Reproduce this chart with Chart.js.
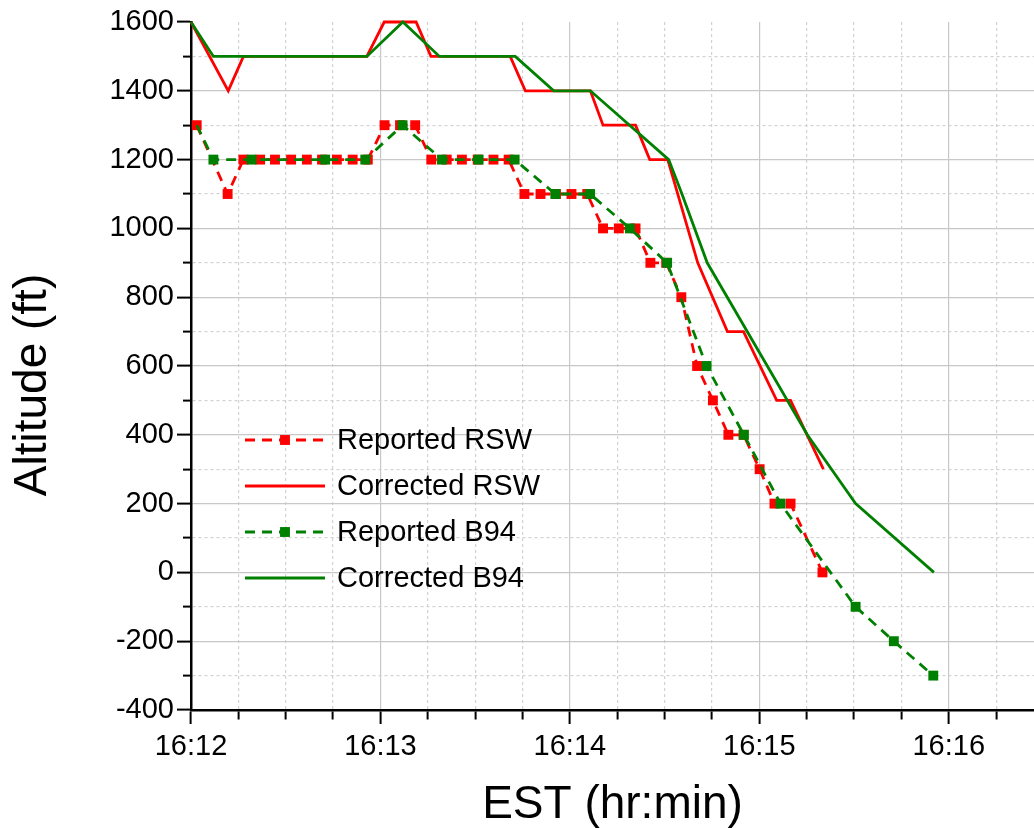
<!DOCTYPE html>
<html>
<head>
<meta charset="utf-8">
<script src="https://cdn.jsdelivr.net/npm/chart.js@4/dist/chart.umd.min.js"></script>
<style>
html,body{margin:0;padding:0;background:#fff;}
canvas{display:block;}
</style>
</head>
<body>
<canvas id="c" width="1034" height="828"></canvas>
<script>
// Time in seconds after 16:12:00 EST, altitude in ft
const reportedRswT   = [1.8, 11.6, 16.6, 21.9, 26.6, 31.7, 36.7, 41.5, 46.2, 51.2, 56.0, 61.3, 66.2, 71.0, 76.1, 81.0, 85.8, 90.8, 95.8, 100.6, 105.6, 110.7, 115.6, 120.5, 125.5, 130.5, 135.5, 140.8, 145.5, 150.5, 155.3, 160.3, 165.3, 170.2, 175.0, 180.1, 184.8, 189.9, 200.0];
const reportedRswAlt = [1300, 1100, 1200, 1200, 1200, 1200, 1200, 1200, 1200, 1200, 1200, 1300, 1300, 1300, 1200, 1200, 1200, 1200, 1200, 1200, 1100, 1100, 1100, 1100, 1100, 1000, 1000, 1000, 900, 900, 800, 600, 500, 400, 400, 300, 200, 200, 0];

const correctedRswT   = [0, 11.8, 16.6, 55.7, 61.2, 71.3, 76.0, 101.1, 105.9, 126.5, 130.5, 140.8, 145.3, 151.0, 160.5, 169.9, 175.0, 185.5, 189.9, 200.3];
const correctedRswAlt = [1600, 1400, 1500, 1500, 1600, 1600, 1500, 1500, 1400, 1400, 1300, 1300, 1200, 1200, 900, 700, 700, 500, 500, 300];

const reportedB94T   = [1.8, 7.1, 19.2, 42.5, 55.2, 67.0, 79.5, 91.1, 102.5, 115.4, 126.4, 139.0, 150.8, 163.3, 175.1, 186.7, 210.5, 222.6, 235.1];
const reportedB94Alt = [1300, 1200, 1200, 1200, 1200, 1300, 1200, 1200, 1200, 1100, 1100, 1000, 900, 600, 400, 200, -100, -200, -300];

const correctedB94T   = [0, 7.1, 55.7, 67.1, 78.7, 102.7, 114.9, 126.5, 151.3, 155.5, 163.5, 195.2, 210.5, 235.3];
const correctedB94Alt = [1600, 1500, 1500, 1600, 1500, 1500, 1400, 1400, 1200, 1100, 900, 400, 200, 0];

const seriesNames = ['Reported RSW', 'Corrected RSW', 'Reported B94', 'Corrected B94'];
const xTickLabels = ['16:12', '16:13', '16:14', '16:15', '16:16'];
const xTitle = 'EST (hr:min)';
const yTitle = 'Altitude (ft)';

const RED = '#ff0000';
const GREEN = '#008000';
const FONT = '"Liberation Sans", Arial, Helvetica, sans-serif';
const MARK_R = 7;
const LINE_W = 2.8;
const DASH = [10, 7];

function pts(t, a) { return t.map((v, i) => ({x: v, y: a[i]})); }

Chart.defaults.font.family = FONT;
Chart.defaults.color = '#000';

const majorGrid = '#c8c8c8';
const minorGrid = '#d2d2d2';

const legendPlugin = {
  id: 'inLegend',
  afterDraw(chart) {
    const ctx = chart.ctx;
    const x0 = 245, lineLen = 80, textX = 337, top = 440, rowH = 46;
    ctx.save();
    seriesNames.forEach((name, i) => {
      const ds = chart.data.datasets.find(d => d.label === name);
      const y = top + i * rowH;
      ctx.strokeStyle = ds.borderColor;
      ctx.lineWidth = ds.borderWidth;
      ctx.setLineDash(ds.borderDash || []);
      ctx.beginPath();
      ctx.moveTo(x0, y);
      ctx.lineTo(x0 + lineLen, y);
      ctx.stroke();
      ctx.setLineDash([]);
      if (ds.showMarkers) {
        const s = MARK_R * Math.SQRT1_2;
        ctx.fillStyle = ds.borderColor;
        ctx.fillRect(x0 + lineLen / 2 - s, y - s, 2 * s, 2 * s);
      }
      ctx.fillStyle = '#000';
      ctx.font = '29px ' + FONT;
      ctx.textBaseline = 'middle';
      ctx.textAlign = 'left';
      ctx.fillText(name, textX, y + 1);
    });
    // y axis title, rotated
    ctx.save();
    ctx.translate(33, 385);
    ctx.rotate(-Math.PI / 2);
    ctx.font = '46px ' + FONT;
    ctx.textAlign = 'center';
    ctx.textBaseline = 'middle';
    ctx.fillStyle = '#000';
    ctx.fillText(yTitle, 0, 0);
    ctx.restore();
    ctx.restore();
  }
};

new Chart(document.getElementById('c'), {
  type: 'scatter',
  data: {
    datasets: [
      {
        label: seriesNames[2], data: pts(reportedB94T, reportedB94Alt), showLine: true,
        borderColor: GREEN, backgroundColor: GREEN, borderWidth: LINE_W, borderDash: DASH,
        pointStyle: 'rect', pointRadius: c => c.dataIndex === 0 ? 0 : MARK_R, pointBorderWidth: 0,
        order: 0, clip: false, showMarkers: true
      },
      {
        label: seriesNames[0], data: pts(reportedRswT, reportedRswAlt), showLine: true,
        borderColor: RED, backgroundColor: RED, borderWidth: LINE_W, borderDash: DASH,
        pointStyle: 'rect', pointRadius: MARK_R, pointBorderWidth: 0,
        order: 1, clip: false, showMarkers: true
      },
      {
        label: seriesNames[1], data: pts(correctedRswT, correctedRswAlt), showLine: true,
        borderColor: RED, backgroundColor: RED, borderWidth: LINE_W,
        pointRadius: 0, order: 3, clip: false, showMarkers: false
      },
      {
        label: seriesNames[3], data: pts(correctedB94T, correctedB94Alt), showLine: true,
        borderColor: GREEN, backgroundColor: GREEN, borderWidth: LINE_W,
        pointRadius: 0, order: 2, clip: false, showMarkers: false
      }
    ]
  },
  options: {
    responsive: false,
    animation: false,
    events: [],
    layout: {autoPadding: false, padding: {top: 22, left: 0, right: 0, bottom: 0}},
    plugins: {legend: {display: false}, tooltip: {enabled: false}},
    scales: {
      x: {
        type: 'linear', position: 'bottom', min: 0, max: 267,
        ticks: {
          stepSize: 15, includeBounds: false, autoSkip: false, maxRotation: 0, minRotation: 0,
          padding: 6, color: '#000', font: {size: 29},
          callback: v => (v % 60 === 0 ? xTickLabels[v / 60] : '')
        },
        grid: {
          color: c => (c.tick && c.tick.value % 60 === 0 ? majorGrid : minorGrid),
          lineWidth: 1.2,
          tickColor: '#000', tickWidth: 2, tickLength: 14,
          tickBorderDash: c => (c.tick && c.tick.value % 60 === 0 ? [] : [8, 100])
        },
        border: {
          display: true, color: '#000', width: 2.5,
          dash: c => (c.tick && c.tick.value % 60 !== 0 ? [3, 3] : [])
        },
        title: {display: true, text: xTitle, color: '#000', font: {size: 46, lineHeight: 1}, padding: {top: 0, bottom: 0}},
        afterFit: s => { s.height = 118; }
      },
      y: {
        type: 'linear', position: 'left', min: -400, max: 1600,
        ticks: {
          stepSize: 100, autoSkip: false, padding: 3, color: '#000', font: {size: 29},
          callback: v => (v % 200 === 0 ? String(v) : '')
        },
        grid: {
          color: c => {
            if (!c.tick) return majorGrid;
            if (c.tick.value === 1600) return 'rgba(0,0,0,0)';
            return c.tick.value % 200 === 0 ? majorGrid : minorGrid;
          },
          lineWidth: 1.2,
          tickColor: '#000', tickWidth: 2, tickLength: 14,
          tickBorderDash: c => (c.tick && c.tick.value % 200 === 0 ? [] : [8, 6]),
          tickBorderDashOffset: c => (c.tick && c.tick.value % 200 === 0 ? 0 : 8)
        },
        border: {
          display: true, color: '#000', width: 2.5,
          dash: c => (c.tick && c.tick.value % 200 !== 0 ? [3, 3] : [])
        },
        title: {display: false, text: yTitle},
        afterFit: s => { s.width = 191; }
      }
    }
  },
  plugins: [legendPlugin]
});
</script>
</body>
</html>
